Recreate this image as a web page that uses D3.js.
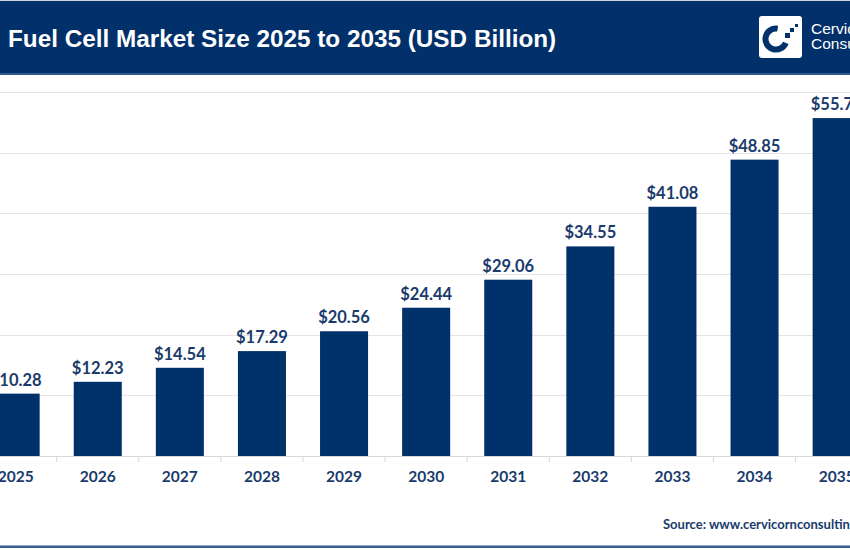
<!DOCTYPE html>
<html>
<head>
<meta charset="utf-8">
<script src="https://cdn.jsdelivr.net/npm/d3@7"></script>
<style>
html,body{margin:0;padding:0;background:#fff;overflow:hidden;}
svg{display:block;}
</style>
</head>
<body>
<svg id="chart" width="850" height="550"></svg>
<script>
const years = ["2025","2026","2027","2028","2029","2030","2031","2032","2033","2034","2035"];
const values = [10.28,12.23,14.54,17.29,20.56,24.44,29.06,34.55,41.08,48.85,55.70];
const yTicks = [0,10,20,30,40,50,60];
const title = "Fuel Cell Market Size 2025 to 2035 (USD Billion)";
const source = "Source: www.cervicornconsulting.com";

const svg = d3.select("#chart");
const navy = "#01316a";
const textNavy = "#1a3b6c";

// header
svg.append("rect").attr("x",0).attr("y",0).attr("width",850).attr("height",1).attr("fill","#cfd6e0");
svg.append("rect").attr("x",0).attr("y",1).attr("width",850).attr("height",73).attr("fill","#01306a");
svg.append("rect").attr("x",0).attr("y",73).attr("width",850).attr("height",2).attr("fill","#2e5a91");
svg.append("text").attr("x",8).attr("y",46.5)
  .attr("font-family","'Liberation Sans', Arial, sans-serif").attr("font-weight","bold")
  .attr("font-size",24.3).attr("fill","#fff").text(title);

// logo
const lg = svg.append("g");
lg.append("rect").attr("x",759).attr("y",16).attr("width",43).attr("height",42).attr("rx",3).attr("fill","#fff");
const arc = d3.arc().innerRadius(7.5).outerRadius(13.5);
lg.append("path").attr("transform","translate(776,39)")
  .attr("d",arc({startAngle: Math.PI*0.62, endAngle: Math.PI*2.05})).attr("fill",navy);
lg.append("rect").attr("x",785).attr("y",33).attr("width",5).attr("height",5).attr("fill",navy);
lg.append("rect").attr("x",790).attr("y",28).attr("width",4).attr("height",4).attr("fill",navy);
lg.append("rect").attr("x",795).attr("y",24).attr("width",3).attr("height",3).attr("fill",navy);
lg.append("text").attr("x",811).attr("y",33.5).attr("font-family","'Liberation Sans', Arial, sans-serif")
  .attr("font-size",15.5).attr("fill","#fff").text("Cervicorn");
lg.append("text").attr("x",811).attr("y",49).attr("font-family","'Liberation Sans', Arial, sans-serif")
  .attr("font-size",15.5).attr("fill","#fff").text("Consulting");

// scales
const x = d3.scaleBand().domain(years).range([-25.4, 877.7]).paddingInner(0.415).paddingOuter(0.2075);
const y = d3.scaleLinear().domain([0,60]).range([456, 92]);

// gridlines
svg.append("g").selectAll("line").data(yTicks.filter(d=>d>0)).join("line")
  .attr("x1",0).attr("x2",850).attr("y1",d=>Math.round(y(d))+0.5).attr("y2",d=>Math.round(y(d))+0.5)
  .attr("stroke","#e4e4e4").attr("stroke-width",1);

// bars
svg.append("g").selectAll("rect").data(values).join("rect")
  .attr("x",(d,i)=>x(years[i])).attr("width",x.bandwidth())
  .attr("y",d=>y(d)).attr("height",d=>y(0)-y(d)).attr("fill",navy);

// x axis
const xAxis = d3.axisBottom(x).tickSize(0).tickPadding(15);
const gx = svg.append("g").attr("transform","translate(0,456)").call(xAxis);
gx.select(".domain").attr("stroke","#d9d9d9").attr("d","M-30,0.5H880");
gx.selectAll(".tick text").attr("font-family","Lato, 'Open Sans', sans-serif").attr("font-weight","bold")
  .attr("font-size",15.5).attr("fill",textNavy);
// tick marks at band boundaries
const bounds = years.slice(1).map(d=>x(d) - x.step()*x.paddingInner()/2);
svg.append("g").selectAll("line").data(bounds).join("line")
  .attr("x1",d=>d).attr("x2",d=>d).attr("y1",456).attr("y2",462)
  .attr("stroke","#d9d9d9");

// value labels
svg.append("g").selectAll("text").data(values).join("text")
  .attr("x",(d,i)=>x(years[i])+x.bandwidth()/2).attr("y",d=>y(d)-8)
  .attr("text-anchor","middle").attr("font-family","Lato, 'Open Sans', sans-serif").attr("font-weight","bold")
  .attr("font-size",16.5).attr("fill",textNavy).text(d=>"$"+d.toFixed(2));

// source
svg.append("text").attr("x",663).attr("y",529).attr("font-family","Lato, 'Open Sans', sans-serif")
  .attr("font-weight","bold").attr("font-size",13).attr("fill",textNavy).text(source);

// bottom line
svg.append("rect").attr("x",0).attr("y",545.5).attr("width",850).attr("height",2.5).attr("fill","#36608f");
</script>
</body>
</html>
